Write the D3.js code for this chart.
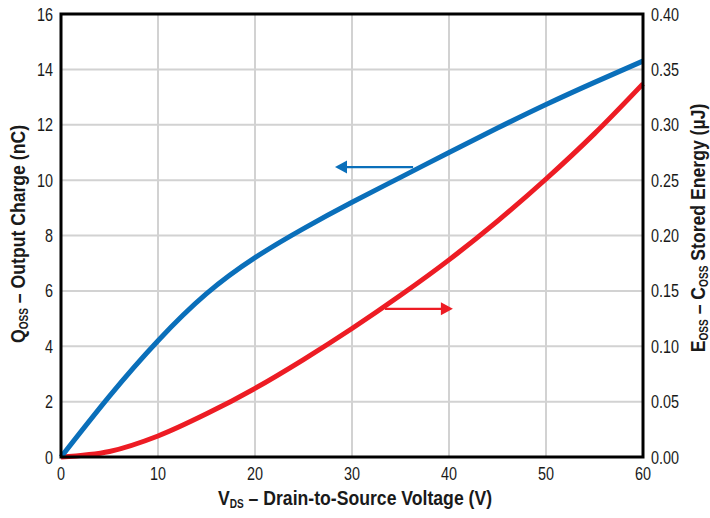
<!DOCTYPE html>
<html>
<head>
<meta charset="utf-8">
<script src="https://cdn.jsdelivr.net/npm/d3@7"></script>
<style>
  body { margin: 0; background: #fff; }
  svg text { font-family: "Liberation Sans", Arial, sans-serif; fill: #1a1a1a; }
</style>
</head>
<body>
<svg id="chart" width="710" height="518"></svg>
<script>
// Drain-to-source voltage (V)
var vds = [0, 5, 10, 15, 20, 25, 30, 35, 40, 45, 50, 55, 60];
// Output charge Qoss (nC), left axis
var qoss = [0, 2.2, 4.2, 5.9, 7.2, 8.25, 9.2, 10.1, 11.0, 11.88, 12.73, 13.53, 14.3];
// Stored energy Eoss (uJ), right axis
var eoss = [0, 0.005, 0.019, 0.039, 0.062, 0.088, 0.116, 0.146, 0.178, 0.213, 0.251, 0.292, 0.337];

var xTicks = [0, 10, 20, 30, 40, 50, 60];
var yTicks = [0, 2, 4, 6, 8, 10, 12, 14, 16];
var y2Ticks = [0, 0.05, 0.10, 0.15, 0.20, 0.25, 0.30, 0.35, 0.40];

var svg = d3.select("#chart");
var m = { left: 61, right: 643, top: 14, bottom: 457 };
var narrow = 0.8;   // horizontal squeeze to mimic the condensed face

var x = d3.scaleLinear().domain([0, 60]).range([m.left, m.right]);
var y = d3.scaleLinear().domain([0, 16]).range([m.bottom, m.top]);
var y2 = d3.scaleLinear().domain([0, 0.4]).range([m.bottom, m.top]);

// Grid lines.
svg.append("g").selectAll("line")
    .data(xTicks.slice(1, -1))
    .enter().append("line")
    .attr("x1", x).attr("x2", x)
    .attr("y1", m.top).attr("y2", m.bottom)
    .attr("stroke", "#d2d2d2").attr("stroke-width", 2);

svg.append("g").selectAll("line")
    .data(yTicks.slice(1, -1))
    .enter().append("line")
    .attr("x1", m.left).attr("x2", m.right)
    .attr("y1", y).attr("y2", y)
    .attr("stroke", "#d2d2d2").attr("stroke-width", 2);

// Tick labels, squeezed horizontally.
function tickLabels(ticks, px, py, anchor, fmt) {
    svg.append("g").selectAll("text")
        .data(ticks)
        .enter().append("text")
        .attr("transform", function(d) { return "translate(" + px(d) + "," + py(d) + ") scale(" + narrow + ",1)"; })
        .attr("text-anchor", anchor)
        .style("font-size", "18px")
        .text(fmt);
}
tickLabels(xTicks, x, function() { return m.bottom + 23; }, "middle", d3.format("d"));
tickLabels(yTicks, function() { return m.left - 8; }, function(d) { return y(d) + 6.5; }, "end", d3.format("d"));
tickLabels(y2Ticks, function() { return m.right + 8; }, function(d) { return y2(d) + 6.5; }, "start", d3.format(".2f"));

// Curves.
var qLine = d3.line().x(function(d, i) { return x(vds[i]); }).y(function(d) { return y(d); }).curve(d3.curveNatural);
var eLine = d3.line().x(function(d, i) { return x(vds[i]); }).y(function(d) { return y2(d); }).curve(d3.curveMonotoneX);

svg.append("path").datum(eoss).attr("d", eLine)
    .attr("fill", "none").attr("stroke", "#ed1c24").attr("stroke-width", 5);
svg.append("path").datum(qoss).attr("d", qLine)
    .attr("fill", "none").attr("stroke", "#0a6fba").attr("stroke-width", 5);

// Frame.
svg.append("rect")
    .attr("x", m.left).attr("y", m.top)
    .attr("width", m.right - m.left).attr("height", m.bottom - m.top)
    .attr("fill", "none").attr("stroke", "#000").attr("stroke-width", 3);

// Arrows pointing to the axis of each curve.
function arrow(v0, v1, q, color) {
    var x0 = x(v0), x1 = x(v1), yy = y(q);
    var dir = x1 < x0 ? 1 : -1;
    svg.append("line")
        .attr("x1", x0).attr("x2", x1 + dir * 10).attr("y1", yy).attr("y2", yy)
        .attr("stroke", color).attr("stroke-width", 2.2);
    svg.append("path")
        .attr("d", "M" + x1 + "," + yy + " L" + (x1 + dir * 12) + "," + (yy - 6.5) + " L" + (x1 + dir * 12) + "," + (yy + 6.5) + " Z")
        .attr("fill", color);
}
arrow(36.3, 28.25, 10.47, "#0a6fba");
arrow(33.4, 40.4, 5.35, "#ed1c24");

// Axis titles with subscripts.
var titleNarrow = 0.84;
function title(tf, parts) {
    var t = svg.append("text").attr("transform", tf)
        .attr("text-anchor", "middle").style("font-size", "21px").style("font-weight", "bold");
    parts.forEach(function(p) {
        var s = t.append("tspan").text(p[0]);
        if (p[1]) s.attr("dy", 3).style("font-size", "12px");
        else if (p[2]) s.attr("dy", -3);
    });
}
title("translate(" + ((m.left + m.right) / 2 + 3) + ",505) scale(" + titleNarrow + ",1)",
    [["V"], ["DS", true], [" – Drain-to-Source Voltage (V)", false, true]]);
title("translate(25,234) rotate(-90) scale(" + titleNarrow + ",1)",
    [["Q"], ["OSS", true], [" – Output Charge (nC)", false, true]]);
title("translate(705,228) rotate(-90) scale(" + titleNarrow + ",1)",
    [["E"], ["OSS", true], [" – C", false, true], ["OSS", true], [" Stored Energy (µJ)", false, true]]);
</script>
</body>
</html>
